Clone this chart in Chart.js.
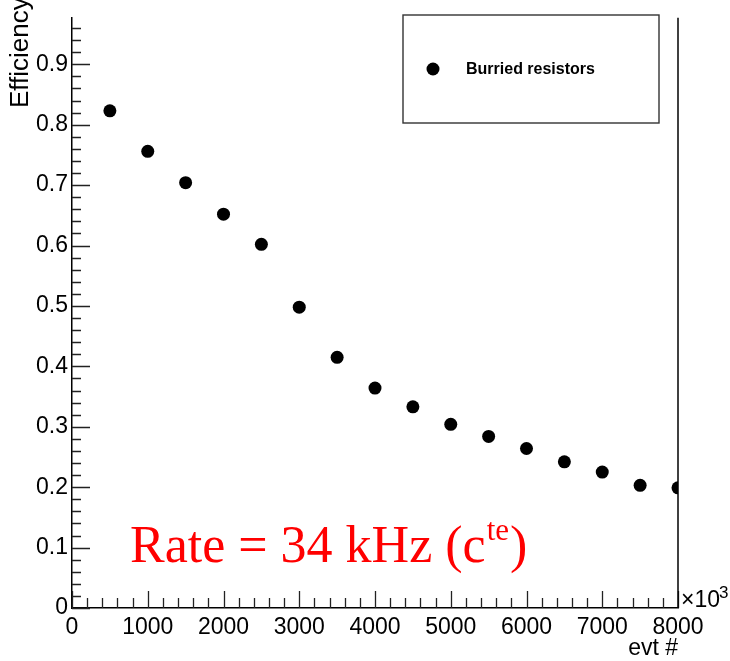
<!DOCTYPE html>
<html>
<head>
<meta charset="utf-8">
<script src="https://cdn.jsdelivr.net/npm/chart.js@4.4.0/dist/chart.umd.min.js"></script>
<style>
  html, body { margin: 0; padding: 0; background: #fff; }
  #wrap { width: 730px; height: 661px; }
</style>
</head>
<body>
<div id="wrap"><canvas id="c" width="730" height="661"></canvas></div>
<script>
// data
const evt = [500, 1000, 1500, 2000, 2500, 3000, 3500, 4000, 4500, 5000, 5500, 6000, 6500, 7000, 7500, 8000];
const efficiency = [0.823, 0.756, 0.704, 0.652, 0.602, 0.498, 0.415, 0.364, 0.333, 0.304, 0.284, 0.264, 0.242, 0.225, 0.203, 0.199];
const xTicks = [0, 1000, 2000, 3000, 4000, 5000, 6000, 7000, 8000];
const yTicks = [0, 0.1, 0.2, 0.3, 0.4, 0.5, 0.6, 0.7, 0.8, 0.9];
const seriesLabel = "Burried resistors";

const SANS = "'Liberation Sans', Arial, Helvetica, sans-serif";
const SERIF = "'Liberation Serif', 'Times New Roman', serif";

// ROOT style: inward ticks, frame, legend box and annotations
const rootDecor = {
  id: "rootDecor",
  afterDraw(chart) {
    const ctx = chart.ctx;
    const a = chart.chartArea;
    const xs = chart.scales.x, ys = chart.scales.y;
    ctx.save();

    // ticks
    ctx.strokeStyle = "#222";
    ctx.lineWidth = 1.3;
    ctx.beginPath();
    for (let v = 0; v <= xs.max + 1e-6; v += 200) {
      const px = Math.round(xs.getPixelForValue(v)) + 0.5;
      const len = (Math.round(v) % 1000 === 0) ? 17 : 10;
      ctx.moveTo(px, a.bottom);
      ctx.lineTo(px, a.bottom - len);
    }
    for (let i = 0; i * 0.02 <= ys.max + 1e-6; i++) {
      const py = Math.round(ys.getPixelForValue(i * 0.02)) + 0.5;
      const len = (i % 5 === 0) ? 18 : 9;
      ctx.moveTo(a.left, py);
      ctx.lineTo(a.left + len, py);
    }
    ctx.stroke();

    // right frame line
    ctx.strokeStyle = "#000";
    ctx.lineWidth = 1.5;
    ctx.beginPath();
    ctx.moveTo(a.right, a.top);
    ctx.lineTo(a.right, a.bottom);
    ctx.stroke();

    // legend
    ctx.strokeStyle = "#333";
    ctx.lineWidth = 1.4;
    ctx.strokeRect(403, 15, 256, 108);
    ctx.fillStyle = "#000";
    ctx.beginPath();
    ctx.arc(433, 69, 6.5, 0, Math.PI * 2);
    ctx.fill();
    ctx.font = "bold 16px " + SANS;
    ctx.textBaseline = "middle";
    ctx.textAlign = "left";
    ctx.fillText(seriesLabel, 466, 70);

    // axis titles
    ctx.font = "23px " + SANS;
    ctx.textAlign = "right";
    ctx.textBaseline = "alphabetic";
    ctx.fillText("evt #", 678, 655);

    ctx.save();
    ctx.translate(28, 108);
    ctx.rotate(-Math.PI / 2);
    ctx.textAlign = "left";
    ctx.font = "26px " + SANS;
    ctx.fillText("Efficiency", 0, 0);
    ctx.restore();

    // x10^3
    ctx.textAlign = "left";
    ctx.font = "23px " + SANS;
    ctx.fillText("\u00d710", 681, 607);
    ctx.font = "17px " + SANS;
    ctx.fillText("3", 719, 598);

    // rate annotation
    ctx.fillStyle = "#ff0000";
    ctx.font = "52px " + SERIF;
    const main = "Rate = 34 kHz (c";
    ctx.fillText(main, 130, 562);
    let x = 130 + ctx.measureText(main).width;
    ctx.font = "31px " + SERIF;
    ctx.fillText("te", x + 1, 540);
    x += ctx.measureText("te").width + 2;
    ctx.font = "52px " + SERIF;
    ctx.fillText(")", x, 562);

    ctx.restore();
  }
};

new Chart(document.getElementById("c"), {
  type: "scatter",
  data: {
    datasets: [{
      label: seriesLabel,
      data: evt.map((v, i) => ({ x: v, y: efficiency[i] })),
      backgroundColor: "#000",
      borderColor: "#000",
      borderWidth: 0,
      pointRadius: 6.5,
      pointHoverRadius: 6.5
    }]
  },
  options: {
    responsive: false,
    animation: false,
    devicePixelRatio: 1,
    layout: { padding: { top: 12, right: 52, left: 0, bottom: 0 } },
    plugins: { legend: { display: false }, tooltip: { enabled: false } },
    scales: {
      x: {
        type: "linear",
        min: 0,
        max: 8000,
        afterFit: s => { s.height = 53; },
        afterBuildTicks: s => { s.ticks = xTicks.map(v => ({ value: v })); },
        grid: { display: false, drawTicks: false },
        border: { display: true, color: "#000", width: 1.5 },
        ticks: { color: "#000", font: { family: SANS, size: 23 }, padding: 6, maxRotation: 0,
                 callback: v => String(v) }
      },
      y: {
        type: "linear",
        min: 0,
        max: 0.977,
        afterFit: s => { s.width = 72; },
        afterBuildTicks: s => { s.ticks = yTicks.map(v => ({ value: v })); },
        grid: { display: false, drawTicks: false },
        border: { display: true, color: "#000", width: 1.5 },
        ticks: { color: "#000", font: { family: SANS, size: 23 }, padding: 4,
                  callback: v => String(Math.round(v * 10) / 10) }
      }
    }
  },
  plugins: [rootDecor]
});
</script>
</body>
</html>
